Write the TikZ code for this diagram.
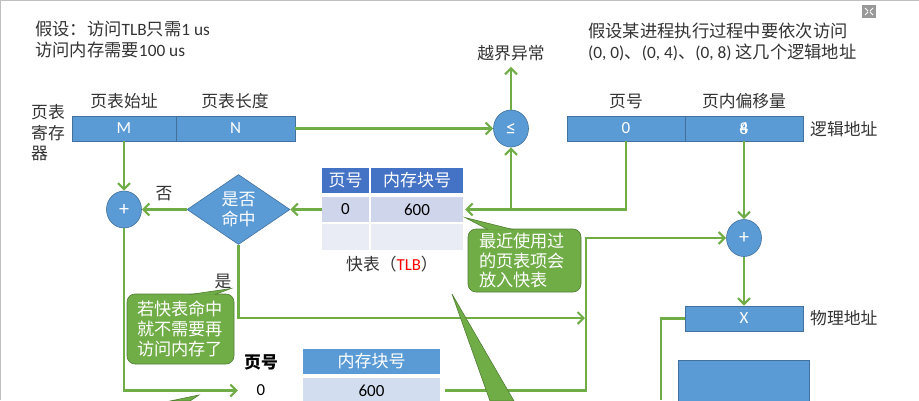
\documentclass[tikz,border=0pt]{standalone}
\usepackage{fontspec}
\setmainfont{Carlito}
\newfontfamily\cjk{Noto Sans CJK SC}
\usetikzlibrary{arrows.meta,shapes.geometric}
\definecolor{boxblue}{HTML}{5B9BD5}
\definecolor{boxedge}{HTML}{41719C}
\definecolor{headblue}{HTML}{4472C4}
\definecolor{rowA}{HTML}{CFD5EA}
\definecolor{rowB}{HTML}{E9EBF5}
\definecolor{rowC}{HTML}{D2DEEF}
\definecolor{flowgreen}{HTML}{70AD47}
\definecolor{noteedge}{HTML}{507E32}
\definecolor{inkgray}{HTML}{333333}
\newcommand{\zh}[1]{{\cjk #1}}
\tikzset{
  flow/.style={draw=flowgreen, line width=2.1pt, -{Straight Barb[length=6pt,width=12pt]}},
  plainflow/.style={draw=flowgreen, line width=2.1pt},
  lab/.style={text=inkgray, inner sep=0pt, font=\fontsize{16.8}{20.5}\selectfont},
  regbox/.style={draw=boxedge, fill=boxblue, text=white, line width=0.6pt, inner sep=0pt,
    minimum height=25pt, font=\fontsize{17}{20}\selectfont},
  addcirc/.style={ellipse, draw=boxedge, fill=boxblue, text=white, line width=0.6pt, inner sep=0pt,
    minimum width=35pt, minimum height=37pt, font=\fontsize{20}{22}\selectfont},
  cell/.style={inner sep=0pt, minimum height=25pt, font=\fontsize{17}{20}\selectfont},
  notebox/.style={draw=noteedge, fill=flowgreen, text=white, line width=0.6pt, rounded corners=8pt,
    inner sep=0pt, align=left, font=\fontsize{17.2}{19.8}\selectfont},
  notetail/.style={draw=noteedge, fill=flowgreen, line width=0.6pt}
}

\begin{document}
\begin{tikzpicture}[x=1pt, y=-1pt]
  \useasboundingbox (0,0) rectangle (919,400);
  \clip (0,0) rectangle (919,400);
  % Page edge and corner icon
  \draw[gray!50, line width=1pt] (0.5,400) -- (0.5,0.5) -- (919,0.5);
  \fill[gray!80] (862,5) rectangle (876,18);
  \draw[white, line width=0.8pt] (865,8) -- (868,11) (873,8) -- (870,11) (865,15) -- (868,12) (873,15) -- (870,12);
  % Notes on top
  \node[lab, anchor=west, align=left, font=\fontsize{17.3}{21}\selectfont] (given) at (35,39.5) {\zh{假设：访问}TLB\zh{只需}1 us\\\zh{访问内存需要}100 us};
  \node[lab, anchor=west, align=left, font=\fontsize{17.3}{21}\selectfont] (visits) at (588,41.5) {\zh{假设某进程执行过程中要依次访问}\\(0, 0)\zh{、}(0, 4)\zh{、}(0, 8) \zh{这几个逻辑地址}};
  % Page table register
  \node[regbox, minimum width=104pt] (regM) at (124,128.5) {M};
  \node[regbox, minimum width=119pt] (regN) at (235.5,128.5) {N};
  \node[lab] (regMlab) at (124,101) {\zh{页表始址}};
  \node[lab] (regNlab) at (235,101) {\zh{页表长度}};
  \node[lab, align=left, anchor=west] (reglab) at (31,133) {\zh{页表}\\\zh{寄存}\\\zh{器}};
  % Logical address
  \node[regbox, minimum width=118pt] (pageNo) at (626,128.5) {0};
  \node[regbox, minimum width=118pt] (pageOff) at (744,128.5) {4};
  \node[text=white, inner sep=0pt, font=\fontsize{17}{20}\selectfont] (pageOffB) at (pageOff) {8};
  \node[lab] (pageNolab) at (626,101) {\zh{页号}};
  \node[lab] (pageOfflab) at (744,101) {\zh{页内偏移量}};
  \node[lab, anchor=west] (logiclab) at (810,129) {\zh{逻辑地址}};
  % Compare and adders
  \node[addcirc] (cmp) at (511,128.5) {≤};
  \node[lab] (overflow) at (511,53) {\zh{越界异常}};
  \node[addcirc] (addA) at (124,209.5) {+};
  \node[addcirc] (addB) at (744,238) {+};
  \node[diamond, draw=boxedge, fill=boxblue, text=white, line width=0.6pt, inner sep=0pt, align=center,
    minimum width=103pt, minimum height=70pt, aspect=1.47, font=\fontsize{17}{20}\selectfont] (hit) at (238.5,209.5) {\zh{是否}\\\zh{命中}};
  \node[lab] (nolab) at (164,194) {\zh{否}};
  \node[lab] (yeslab) at (223,281) {\zh{是}};
  % TLB
  \node[cell, fill=headblue, text=white, minimum width=47pt] (tlbH1) at (345.5,180.5) {\zh{页号}};
  \node[cell, fill=headblue, text=white, minimum width=92pt] (tlbH2) at (417,180.5) {\zh{内存块号}};
  \node[cell, fill=rowA, text=black, minimum width=47pt] (tlbP) at (345.5,209.5) {0};
  \node[cell, fill=rowA, text=black, minimum width=92pt] (tlbF) at (417,209.5) {600};
  \node[cell, fill=rowB, minimum width=47pt, minimum height=26pt] (tlbP2) at (345.5,237) {};
  \node[cell, fill=rowB, minimum width=92pt, minimum height=26pt] (tlbF2) at (417,237) {};
  \node[lab] (tlblab) at (392,264) {\zh{快表（}\textcolor{red}{TLB}\zh{）}};
  % Physical address
  \node[regbox, minimum width=118pt] (regX) at (744,318.5) {X};
  \node[lab, anchor=west] (physlab) at (810,318) {\zh{物理地址}};
  % Page table
  \node[lab, text=black, font=\fontsize{16.8}{20}\selectfont\bfseries] (ptP) at (261,362) {\zh{页号}};
  \node[cell, fill=boxblue, text=white, minimum width=137pt] (ptF) at (371.5,361.5) {\zh{内存块号}};
  \node[lab, text=black, minimum width=46pt, align=center] (ptP0) at (261,390.5) {0};
  \node[cell, fill=rowC, text=black, minimum width=137pt] (ptF0) at (371.5,390.5) {600};
  % Main memory block
  \node[draw=boxedge, fill=boxblue, line width=0.6pt, minimum width=131pt, minimum height=80pt, inner sep=0pt] (mem) at (743.5,400) {};
  % Bends
  \coordinate (branch) at (511,209.5);
  \coordinate (turnB) at (586,390.5);
  \coordinate (hitEnd) at (585,318);
  \coordinate (memDown) at (661,400);
  % Connectors
  \draw[flow] (regN.east) -- (cmp.west);
  \draw[flow] (cmp.north) -- ([yshift=-6pt]overflow.south);
  \draw[flow] (pageNo.south) |- ([xshift=2pt]tlbF.east);
  \draw[flow] (branch) -- (cmp.south);
  \draw[flow] (tlbP.west) -- (hit.east);
  \draw[flow] (hit.west) -- (addA.east);
  \draw[flow] (regM.south) -- (addA.north);
  \draw[flow] (addA.south) |- (ptP0.west);
  \draw[flow] (hit.south) |- (hitEnd);
  \draw[flow] (pageOff.south) -- (addB.north);
  \draw[flow] (addB.south) -- (regX.north);
  \draw[flow] ([xshift=5pt]ptF0.east) -- (turnB) |- (addB.west);
  \draw[plainflow] (regX.west) -| (memDown);
  % Callouts
  \node[notebox, minimum width=107pt, minimum height=70pt, text width=87pt] (noteHit) at (180.5,329) {\zh{若快表命中}\\\zh{就不需要再}\\\zh{访问内存了}};
  \draw[notetail] (190,294.5) -- (231,288.5) -- (215,294.5);
  \fill[flowgreen] (188,295.4) rectangle (217,297);
  \node[notebox, minimum width=113pt, minimum height=63pt, text width=91pt] (noteTlb) at (524.5,260.5) {\zh{最近使用过}\\\zh{的页表项会}\\\zh{放入快表}};
  \draw[notetail] (488,229.5) -- (465,217.5) -- (513,229.5);
  \fill[flowgreen] (486,230.4) rectangle (515,232);
  % Tails of callouts below the page
  \draw[notetail] (452,294) -- (490,401) -- (514,401) -- cycle;
  \draw[notetail] (199,395) -- (170,401) -- (190,401) -- cycle;
\end{tikzpicture}
\end{document}
